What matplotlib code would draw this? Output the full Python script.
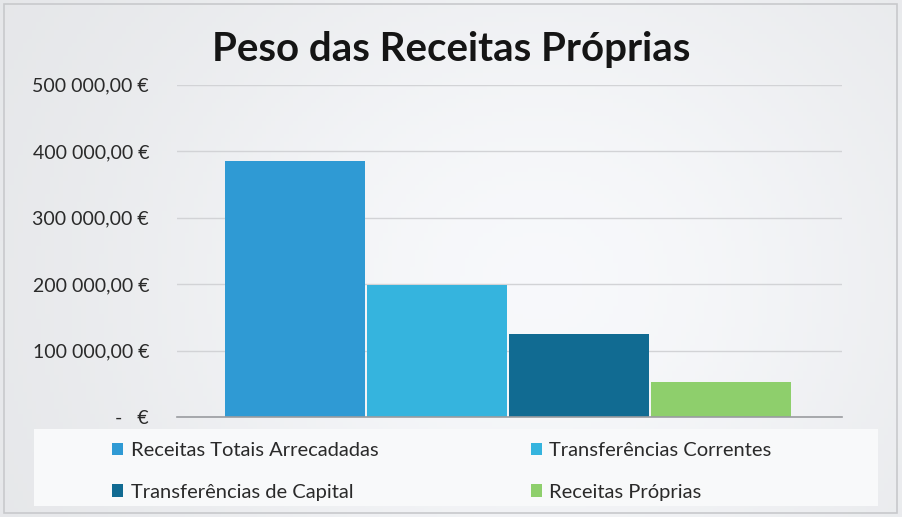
import numpy as np
import matplotlib.pyplot as plt
from matplotlib.patches import Rectangle

series = ['Receitas Totais Arrecadadas', 'Transferências Correntes',
          'Transferências de Capital', 'Receitas Próprias']
valores = [386000, 198500, 125000, 53000]
cores = ['#2f9ad4', '#35b4de', '#116b92', '#8ecf6c']
ticks_y = [0, 100000, 200000, 300000, 400000, 500000]

plt.rcParams['font.family'] = ['Lato', 'DejaVu Sans']


def formato_euro(v):
    if v == 0:
        return '-   €'
    inteiro = f'{int(v):,}'.replace(',', ' ')
    return f'{inteiro},00 €'


fig = plt.figure(figsize=(9.02, 5.17), dpi=100)

# fundo com gradiente suave
fundo = fig.add_axes([0, 0, 1, 1], zorder=-10)
xx, yy = np.meshgrid(np.linspace(0, 1, 200), np.linspace(0, 1, 120))
grad = 0.90 + 0.08 * np.exp(-((xx - 0.6) ** 2 / 0.25 + (yy - 0.55) ** 2 / 0.6))
fundo.imshow(np.dstack([grad - 0.01, grad - 0.005, grad + 0.005]).clip(0, 1),
             aspect='auto', extent=[0, 1, 0, 1])
fundo.add_patch(Rectangle((0.004, 0.008), 0.99, 0.985, fill=False,
                          edgecolor='#c8c9cc', linewidth=1.2))
fundo.set_xlim(0, 1)
fundo.set_ylim(0, 1)
fundo.axis('off')

ax = fig.add_axes([0.196, 0.193, 0.737, 0.643])
ax.set_facecolor('none')
x = np.arange(len(series))
for i, (nome, v, c) in enumerate(zip(series, valores, cores)):
    ax.bar(x[i], v, width=0.985, color=c, label=nome, zorder=3)

ax.set_ylim(0, 500000)
ax.set_xlim(-0.83, 3.85)
ax.set_yticks(ticks_y)
ax.set_yticklabels([formato_euro(t) for t in ticks_y], fontsize=14, color='#2a2a2a')
ax.tick_params(axis='y', length=0, pad=20)
ax.set_xticks([])
ax.grid(axis='y', color='#d2d3d6', linewidth=1, zorder=0)
for s in ['top', 'right', 'left']:
    ax.spines[s].set_visible(False)
ax.spines['bottom'].set_color('#9a9ca0')
ax.spines['bottom'].set_linewidth(1.2)
ax.spines['bottom'].set_zorder(4)

fig.text(0.50, 0.905, 'Peso das Receitas Próprias', ha='center', va='center',
         fontsize=29, fontweight='bold', color='#151515')

# caixa da legenda
fundo.add_patch(Rectangle((0.038, 0.022), 0.935, 0.148, facecolor='#f8f9fa',
                          edgecolor='none', zorder=2))
handles, labels = ax.get_legend_handles_labels()
ordem = [0, 2, 1, 3]
leg = fig.legend([handles[i] for i in ordem], [labels[i] for i in ordem],
                 ncol=2, loc='center', bbox_to_anchor=(0.49, 0.088),
                 frameon=False, fontsize=14.5, handlelength=0.55, handleheight=0.55,
                 handletextpad=0.35, columnspacing=7.6, labelspacing=1.2)
for t in leg.get_texts():
    t.set_color('#2a2a2a')

fig.savefig('out.png', dpi=100)
